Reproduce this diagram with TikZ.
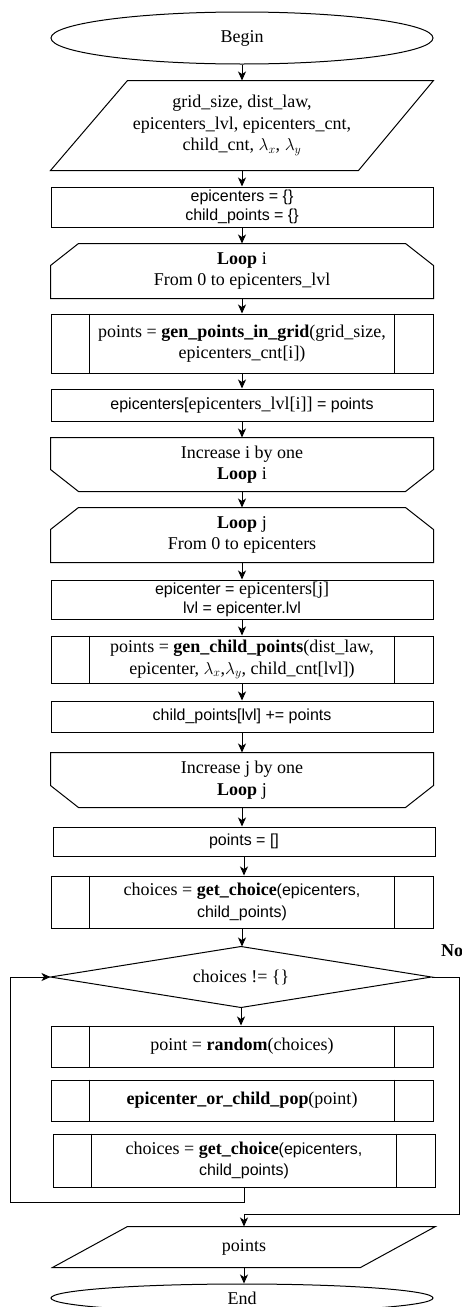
\documentclass[tikz,border=0pt]{standalone}
\usepackage{fontspec}
\setmainfont{Liberation Serif}
\setsansfont{Liberation Sans}
\usetikzlibrary{shapes.geometric,arrows.meta}

\newcommand{\hv}[1]{{\sffamily\fontsize{16}{19}\selectfont #1}}

\begin{document}
\begin{tikzpicture}[x=1pt, y=-1pt, line width=1pt,
    every node/.style={font=\fontsize{18}{21.5}\selectfont, align=center, inner sep=0pt},
    blk/.style={draw, minimum width=382pt},
    shp/.style={minimum width=382pt},
    arr/.style={-{Stealth[length=9pt,width=8pt,inset=2.5pt]}}]
    \useasboundingbox (0,0) rectangle (462,1307);

    \node[shp, ellipse, draw, minimum height=52pt] (begin) at (242,38) {Begin};
    \node[shp, minimum height=89pt] (inp) at (242,125.5)
        {grid\_size, dist\_law,\\ epicenters\_lvl, epicenters\_cnt,\\ child\_cnt, $\lambda_x$, $\lambda_y$};
    \node[blk, minimum height=40pt] (init) at (242,207)
        {\hv{epicenters = \{\}}\\[-2pt] \hv{child\_points = \{\}}};
    \node[shp, minimum height=54pt] (loopi) at (242,271) {\textbf{Loop} i\\ From 0 to epicenters\_lvl};
    \node[blk, minimum height=59pt] (gengrid) at (242,343.5)
        {points = \textbf{gen\_points\_in\_grid}(grid\_size,\\ epicenters\_cnt[i])};
    \node[blk, minimum height=32pt] (assign) at (242,405)
        {\hv{epicenters[}epicenters\_lvl[i]]\hv{ = points}};
    \node[shp, minimum height=53pt] (inci) at (242,464.5) {Increase i by one\\ \textbf{Loop} i};
    \node[shp, minimum height=54pt] (loopj) at (242,535) {\textbf{Loop} j\\ From 0 to epicenters};
    \node[blk, minimum height=39pt] (epi) at (242,599.5)
        {\hv{epicenter = }epicenters[j]\\[-3pt] \hv{lvl = epicenter.lvl}};
    \node[blk, minimum height=47pt] (genchild) at (242,659.5)
        {points = \textbf{gen\_child\_points}(dist\_law,\\ epicenter, $\lambda_x$,$\lambda_y$, child\_cnt[lvl])};
    \node[blk, minimum height=31pt] (childadd) at (242,716.5) {\hv{child\_points[lvl] += points}};
    \node[shp, minimum height=54pt] (incj) at (242,780) {Increase j by one\\ \textbf{Loop} j};
    \node[blk, minimum height=29pt] (pts) at (244,841.5) {\hv{points = []}};
    \node[blk, minimum height=52pt] (choice1) at (242,902)
        {choices = \textbf{get\_choice}\hv{(epicenters,}\\ \hv{child\_points)}};
    \node[minimum width=380pt, minimum height=60pt] (cond) at (241,977) {choices != \{\}};
    \node[font=\fontsize{18}{21.5}\selectfont\bfseries] (no) at (452,951) {No};
    \node[blk, minimum height=41pt] (rnd) at (242,1046.5) {point = \textbf{random}(choices)};
    \node[blk, minimum height=41pt] (pop) at (242,1100.5) {\textbf{epicenter\_or\_child\_pop}(point)};
    \node[blk, minimum height=53pt] (choice2) at (244,1160.5)
        {choices = \textbf{get\_choice}\hv{(epicenters,}\\ \hv{child\_points)}};
    \node[shp, minimum height=40pt] (out) at (244,1247) {points};
    \node[shp, ellipse, draw, minimum height=28pt] (end) at (242,1298) {End};

    % decision
    \draw (cond.north) -- (cond.east) -- (cond.south) -- (cond.west) -- cycle;

    % parallelograms
    \draw ([xshift=77pt]inp.north west) -- (inp.north east) -- ([xshift=-75pt]inp.south east)
        -- (inp.south west) -- cycle;
    \draw ([xshift=75pt]out.north west) -- (out.north east) -- ([xshift=-75pt]out.south east)
        -- (out.south west) -- cycle;

    % loop heads and loop ends
    \foreach \n in {loopi,loopj}
        \draw ([yshift=-22pt]\n.north west) -- ([xshift=28pt]\n.north west)
            -- ([xshift=-28pt]\n.north east) -- ([yshift=-22pt]\n.north east)
            -- (\n.south east) -- (\n.south west) -- cycle;
    \foreach \n in {inci,incj}
        \draw ([yshift=22pt]\n.south west) -- ([xshift=28pt]\n.south west)
            -- ([xshift=-28pt]\n.south east) -- ([yshift=22pt]\n.south east)
            -- (\n.north east) -- (\n.north west) -- cycle;

    % subroutine bars
    \foreach \n in {gengrid,genchild,choice1,rnd,pop,choice2} {
        \draw ([xshift=39pt]\n.north west) -- ([xshift=39pt]\n.south west);
        \draw ([xshift=-39pt]\n.north east) -- ([xshift=-39pt]\n.south east);
    }

    % main flow
    \foreach \a/\b in {begin/inp,inp/init,init/loopi,loopi/gengrid,gengrid/assign,assign/inci,
                       inci/loopj,loopj/epi,epi/genchild,genchild/childadd,childadd/incj,
                       incj/pts,pts/choice1,choice1/cond,cond/rnd,out/end}
        \draw[arr] (\a.south) -- (\a.south |- \b.north);

    % loop back and exit
    \draw[arr] (choice2.south) -- ++(0,15) -| (10,977) -- (cond.west);
    \draw[arr] (cond.east) -- (459,977) |- (244,1214) -- (out.north);
\end{tikzpicture}
\end{document}
